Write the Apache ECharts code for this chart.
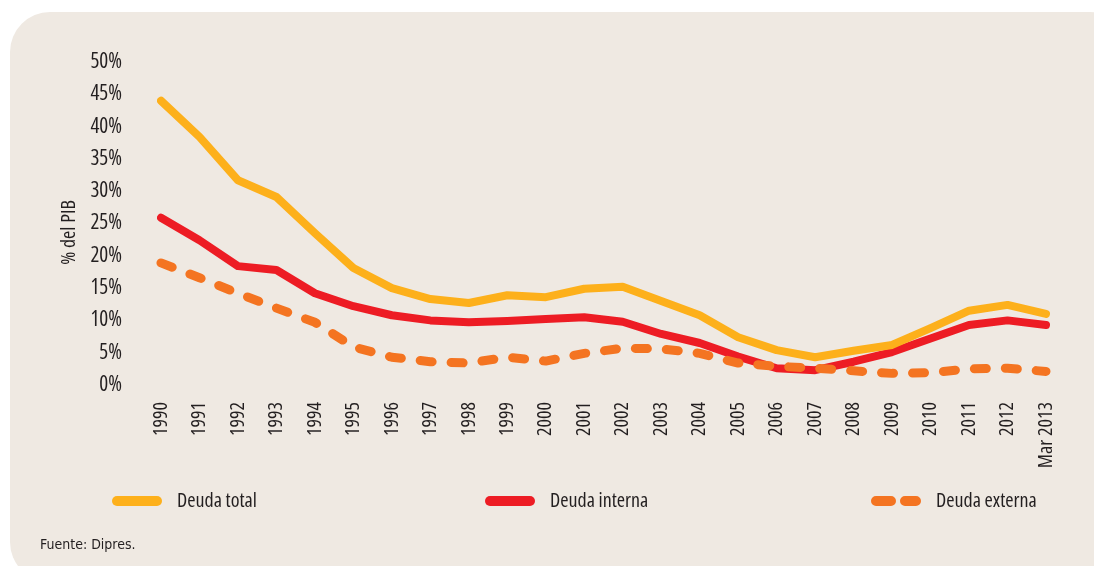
<!DOCTYPE html>
<html>
<head>
<meta charset="utf-8">
<script src="https://cdn.jsdelivr.net/npm/echarts@6/dist/echarts.min.js"></script>
<style>
  html, body { margin: 0; padding: 0; background: #ffffff; }
  #chart { width: 1094px; height: 566px; }
</style>
</head>
<body>
<div id="chart"></div>
<script>
const years = ["1990", "1991", "1992", "1993", "1994", "1995", "1996", "1997", "1998", "1999", "2000",
  "2001", "2002", "2003", "2004", "2005", "2006", "2007", "2008", "2009", "2010", "2011", "2012", "Mar 2013"];

const deudaTotal = [44.0, 38.4, 31.7, 29.1, 23.5, 18.1, 15.0, 13.3, 12.7, 13.9, 13.6,
  14.9, 15.2, 13.0, 10.8, 7.4, 5.4, 4.3, 5.3, 6.2, 8.8, 11.5, 12.4, 11.0];

const deudaInterna = [25.9, 22.4, 18.4, 17.8, 14.2, 12.2, 10.8, 10.0, 9.7, 9.9, 10.2,
  10.5, 9.8, 7.9, 6.5, 4.4, 2.6, 2.3, 3.6, 5.1, 7.2, 9.3, 10.0, 9.3];

const deudaExterna = [18.9, 16.6, 14.2, 11.9, 9.7, 5.9, 4.3, 3.6, 3.4, 4.3, 3.7,
  4.9, 5.7, 5.6, 4.9, 3.4, 2.9, 2.6, 2.2, 1.8, 1.9, 2.5, 2.6, 2.1];

const yTicks = [0, 5, 10, 15, 20, 25, 30, 35, 40, 45, 50];

const ink = "#231f20";
// Open Sans has a width axis, "condensed" in the weight slot ends up in the canvas font string
const narrowFont = "Open Sans";
const narrow = "condensed";

const chart = echarts.init(document.getElementById("chart"), null, { renderer: "canvas" });

// capsule shapes for the legend keys
const solidKey = "path://M5,0 H45 A5,5 0 0 1 45,10 H5 A5,5 0 0 1 5,0 Z";
const dashKey = "path://M5,0 H20 A5,5 0 0 1 20,10 H5 A5,5 0 0 1 5,0 Z M34,0 H45 A5,5 0 0 1 45,10 H34 A5,5 0 0 1 34,0 Z";

const legendBase = {
  top: 491,
  padding: 0,
  itemWidth: 50,
  itemHeight: 10,
  textStyle: { color: ink, fontFamily: narrowFont, fontWeight: narrow, fontSize: 20, padding: [0, 0, 0, 10] }
};

chart.setOption({
  animation: false,
  graphic: [
    {
      type: "rect",
      z: -10,
      silent: true,
      shape: { x: 10, y: 12, width: 1110, height: 570, r: [40, 30, 40, 40] },
      style: { fill: "#efe9e2" }
    },
    {
      type: "text",
      left: 40,
      top: 538,
      style: { text: "Fuente: Dipres.", fill: ink, font: "condensed 14px 'DejaVu Sans', sans-serif" }
    }
  ],
  grid: { left: 161, right: 48, top: 62, bottom: 181 },
  legend: [
    Object.assign({}, legendBase, { left: 112, icon: solidKey, data: ["Deuda total"] }),
    Object.assign({}, legendBase, { left: 485, icon: solidKey, data: ["Deuda interna"] }),
    Object.assign({}, legendBase, { left: 871, icon: dashKey, data: ["Deuda externa"] })
  ],
  xAxis: {
    type: "category",
    data: years,
    boundaryGap: false,
    axisLine: { show: false },
    axisTick: { show: false },
    axisLabel: {
      rotate: 90,
      margin: 17,
      interval: 0,
      color: ink,
      fontFamily: narrowFont,
      fontWeight: narrow,
      fontSize: 20
    }
  },
  yAxis: {
    type: "value",
    min: yTicks[0],
    max: yTicks[yTicks.length - 1],
    interval: 5,
    name: "% del PIB",
    nameLocation: "middle",
    nameGap: 76,
    nameRotate: 90,
    nameTextStyle: { color: ink, fontFamily: narrowFont, fontWeight: narrow, fontSize: 20, padding: [0, 18, 0, 0] },
    axisLine: { show: false },
    axisTick: { show: false },
    splitLine: { show: false },
    axisLabel: {
      margin: 39,
      color: ink,
      fontFamily: narrowFont,
      fontWeight: narrow,
      fontSize: 21,
      formatter: (v) => v + "%"
    }
  },
  series: [
    {
      name: "Deuda total",
      type: "line",
      data: deudaTotal,
      symbol: "none",
      color: "#fdb01b",
      lineStyle: { width: 8, color: "#fdb01b", cap: "round", join: "round" },
      z: 3
    },
    {
      name: "Deuda interna",
      type: "line",
      data: deudaInterna,
      symbol: "none",
      color: "#ed1c24",
      lineStyle: { width: 8, color: "#ed1c24", cap: "round", join: "round" },
      z: 2
    },
    {
      name: "Deuda externa",
      type: "line",
      data: deudaExterna,
      symbol: "none",
      color: "#f47421",
      lineStyle: { width: 9, color: "#f47421", type: [12, 19], cap: "round", join: "round" },
      z: 4
    }
  ]
});
</script>
</body>
</html>
